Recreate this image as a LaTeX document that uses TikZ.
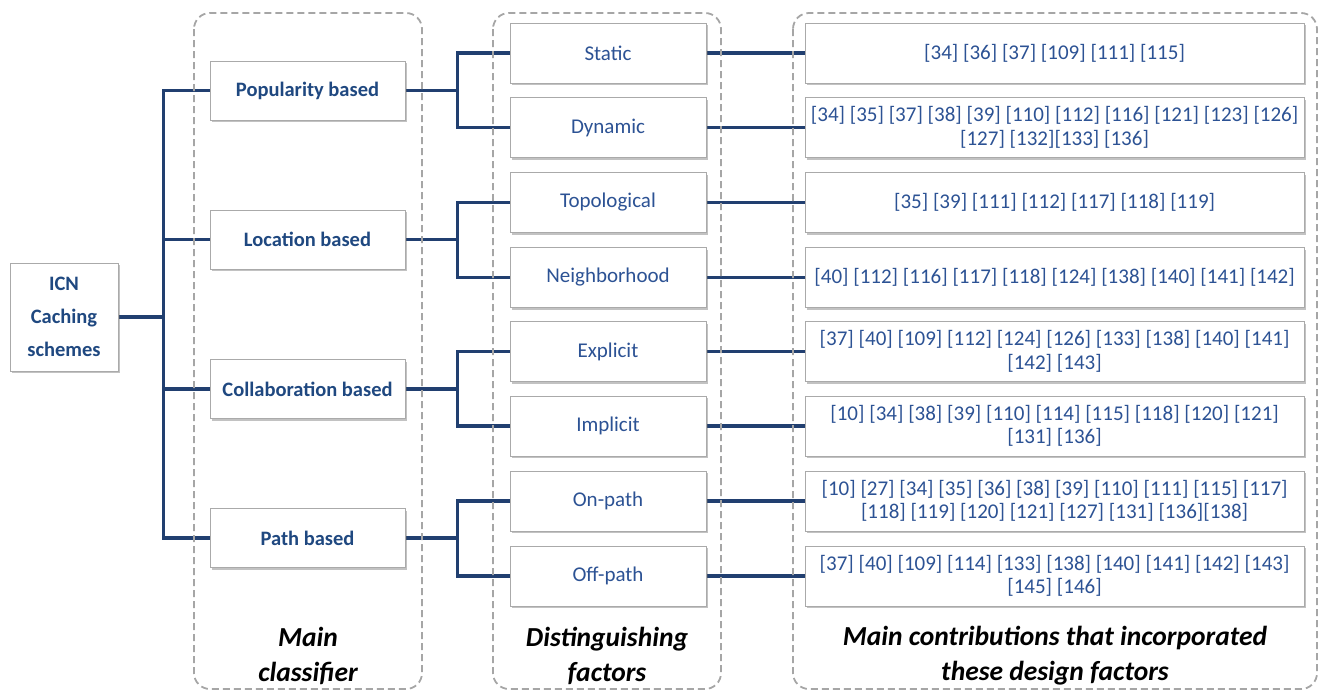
\documentclass[tikz,border=0pt]{standalone}
\usepackage{fontspec}
\setmainfont{Carlito}
\usetikzlibrary{shadows}
\pgfdeclarelayer{background}
\pgfsetlayers{background,main}

\definecolor{linkblue}{RGB}{33,63,112}
\definecolor{headblue}{RGB}{31,72,128}
\definecolor{refblue}{RGB}{44,82,148}
\definecolor{frame}{RGB}{166,166,166}
\definecolor{boxedge}{RGB}{170,170,170}

\tikzset{
  card/.style={draw=boxedge, line width=0.9pt, fill=white, inner sep=2pt,
    drop shadow={shadow xshift=1.6pt, shadow yshift=-2.4pt, opacity=0.4, fill=black!60},
    align=center, font=\fontsize{21}{23.5}\selectfont},
  rootbox/.style={card, minimum width=108pt, minimum height=108pt, text=headblue,
    font=\bfseries\fontsize{20.5}{33}\selectfont},
  classbox/.style={card, minimum width=195pt, minimum height=59pt, text=headblue,
    font=\bfseries\fontsize{20.5}{23.5}\selectfont},
  factorbox/.style={card, minimum width=196pt, minimum height=60pt, text=refblue},
  refbox/.style={card, minimum width=499pt, minimum height=60pt, text=refblue},
  conn/.style={draw=linkblue, line width=3.6pt},
  column/.style={draw=frame, line width=1.8pt, dash pattern=on 7pt off 4pt, rounded corners=16pt},
  caption/.style={align=center, text=black, font=\bfseries\itshape\fontsize{27.5}{35}\selectfont}
}

\begin{document}
\begin{tikzpicture}[x=1pt,y=-1pt]
\useasboundingbox (0,0) rectangle (1319,691);

% root
\node[rootbox] (icn) at (64,317) {ICN\\Caching\\schemes};

% main classifier
\node[classbox] (pop)  at (307.5,90.5)  {Popularity based};
\node[classbox] (loc)  at (307.5,239.5) {Location based};
\node[classbox] (col)  at (307.5,389)   {Collaboration based};
\node[classbox] (path) at (307.5,538)   {Path based};

% distinguishing factors
\node[factorbox] (stat) at (608,53)    {Static};
\node[factorbox] (dyn)  at (608,127.5) {Dynamic};
\node[factorbox] (topo) at (608,202.5) {Topological};
\node[factorbox] (neig) at (608,277.5) {Neighborhood};
\node[factorbox] (expl) at (608,351.5) {Explicit};
\node[factorbox] (impl) at (608,426)   {Implicit};
\node[factorbox] (onp)  at (608,501)   {On-path};
\node[factorbox] (offp) at (608,576)   {Off-path};

% contributions (the {} after \\ keeps a leading [ from being read as a skip)
\node[refbox] (rstat) at (1054.5,53)    {[34] [36] [37] [109] [111] [115]};
\node[refbox] (rdyn)  at (1054.5,127.5) {[34] [35] [37] [38] [39] [110] [112] [116] [121] [123] [126]\\{}[127] [132][133] [136]};
\node[refbox] (rtopo) at (1054.5,202.5) {[35] [39] [111] [112] [117] [118] [119]};
\node[refbox] (rneig) at (1054.5,277.5) {[40] [112] [116] [117] [118] [124] [138] [140] [141] [142]};
\node[refbox] (rexpl) at (1054.5,351.5) {[37] [40] [109] [112] [124] [126] [133] [138] [140] [141]\\{}[142] [143]};
\node[refbox] (rimpl) at (1054.5,426)   {[10] [34] [38] [39] [110] [114] [115] [118] [120] [121]\\{}[131] [136]};
\node[refbox] (ronp)  at (1054.5,501)   {[10] [27] [34] [35] [36] [38] [39] [110] [111] [115] [117]\\{}[118] [119] [120] [121] [127] [131] [136][138]};
\node[refbox] (roffp) at (1054.5,576)   {[37] [40] [109] [114] [133] [138] [140] [141] [142] [143]\\{}[145] [146]};

% column captions
\node[caption] (cap1) at (308,656)    {Main\\classifier};
\node[caption] (cap2) at (607,656)    {Distinguishing\\factors};
\node[caption] (cap3) at (1055,656)   {Main contributions that incorporated\\these design factors};

\begin{pgfonlayer}{background}
  % tree connectors
  \foreach \c in {pop,loc,col,path}
    \draw[conn] (icn.east) -- ++(45,0) |- (\c.west);
  \foreach \p/\a/\b in {pop/stat/dyn, loc/topo/neig, col/expl/impl, path/onp/offp}{
    \draw[conn] (\p.east) -- ++(52,0) |- (\a.west);
    \draw[conn] (\p.east) -- ++(52,0) |- (\b.west);
  }
  \foreach \f/\r in {stat/rstat, dyn/rdyn, topo/rtopo, neig/rneig, expl/rexpl, impl/rimpl, onp/ronp, offp/roffp}
    \draw[conn] (\f.east) -- (\r.west);

  % dashed column frames
  \draw[column] (194,13) rectangle (422,689);
  \draw[column] (493,13) rectangle (721,689);
  \draw[column] (793,13) rectangle (1317,689);
\end{pgfonlayer}
\end{tikzpicture}
\end{document}
